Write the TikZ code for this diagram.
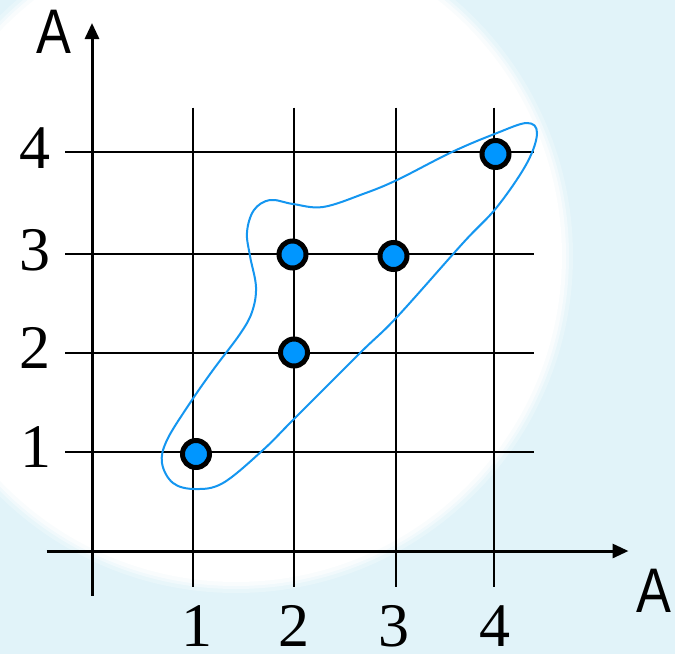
\documentclass[tikz,border=0pt]{standalone}
\usepackage{fontspec}
\setmainfont{Liberation Serif}
\newfontfamily\axisfont{Liberation Sans}
\usetikzlibrary{arrows.meta}
\definecolor{bgblue}{RGB}{225,243,249}
\definecolor{dotblue}{RGB}{0,150,255}
\definecolor{curveblue}{RGB}{20,150,240}
\begin{document}
\begin{tikzpicture}[x=1pt,y=-1pt,
  gridline/.style={line width=2pt},
  axisline/.style={line width=3pt,-{Triangle[length=16pt,width=14pt]}},
  pt/.style={circle,draw=black,line width=5pt,fill=dotblue,minimum size=27pt,inner sep=0pt},
  num/.style={font=\fontsize{62}{62}\selectfont,inner sep=0pt,anchor=base},
  axlab/.style={font=\axisfont\fontsize{63}{63}\selectfont,inner sep=0pt,anchor=base,xscale=0.83}]
\useasboundingbox (0,0) rectangle (675,654);
% background
\fill[bgblue] (0,0) rectangle (675,654);
\fill[white,opacity=0.25] (236,256) circle (337);
\fill[white,opacity=0.4] (236,256) circle (333);
\fill[white,opacity=0.6] (236,256) circle (330);
\fill[white] (236,256) circle (326);
% grid
\foreach \gx in {193,294,395.5,493.5}
  \draw[gridline] (\gx,107.7) -- (\gx,587);
\foreach \gy in {451.7,352.7,254.3,152.3}
  \draw[gridline] (65,\gy) -- (534,\gy);
% axes
\coordinate (yb) at (92,595.7);
\coordinate (yt) at (92,23);
\coordinate (xl) at (46.5,551);
\coordinate (xr) at (628.5,551);
\draw[axisline] (yb) -- (yt);
\draw[axisline] (xl) -- (xr);
% curve
\draw[curveblue,line width=2pt] plot[smooth cycle,tension=0.6] coordinates {
 (527,123) (497,133) (452,152) (397,180) (363,194) (323,207) (293,204)
 (270,200) (254,210) (247,232) (250,256) (256,287) (252,312) (240,334)
 (213,370) (190,403) (167,440) (162,463) (173,483) (195,489) (223,483)
 (263,450) (293,420) (360,353) (397,317) (463,243) (497,207) (527,163)
 (537,133)};
% dots
\node[pt] (d11) at (196,454) {};
\node[pt] (d22) at (294,352.5) {};
\node[pt] (d23) at (292.5,254.5) {};
\node[pt] (d33) at (393.5,256) {};
\node[pt] (d44) at (495.5,154) {};
% labels
\node[num] (ly4) at (35,168) {4};
\node[num] (ly3) at (35,270) {3};
\node[num] (ly2) at (35,368) {2};
\node[num] (ly1) at (36,467) {1};
\node[num] (lx1) at (196.5,646) {1};
\node[num] (lx2) at (294,646) {2};
\node[num] (lx3) at (394,646) {3};
\node[num] (lx4) at (495,646) {4};
\node[axlab] (ay) at (54,53) {A};
\node[axlab] (ax) at (653.5,612) {A};
\end{tikzpicture}
\end{document}
